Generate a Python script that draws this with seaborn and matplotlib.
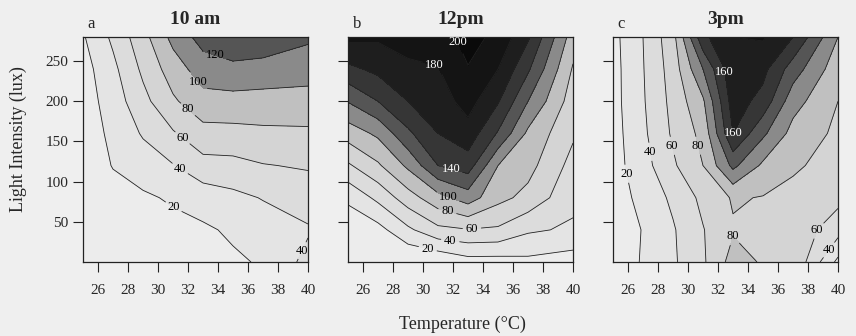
import matplotlib
matplotlib.use('Agg')
import matplotlib.pyplot as plt
import seaborn as sns

sns.set_theme(style="white")
plt.rcParams['font.family'] = ['Liberation Serif', 'DejaVu Serif']

# grid: temperature (C) x light (lux)
temp = [25, 27, 29, 31, 33, 35, 37, 40]
lux = [0, 40, 80, 120, 160, 200, 240, 280]

# rows = lux, cols = temp
z_10am = [
    [0, 3, 6, 9, 13, 17, 22, 46],
    [2, 6, 10, 14, 17, 23, 30, 38],
    [4, 12, 17, 22.5, 29, 35, 41, 49],
    [6, 21, 30, 39, 53, 54, 59, 62],
    [8, 25, 42, 58, 73, 74, 76, 77],
    [10, 29.5, 54, 77, 93, 93, 92, 91],
    [12, 35, 64, 90, 110, 115, 113, 110],
    [18, 44, 73, 106, 128, 135, 133, 123],
]
z_12pm = [
    [0, 0, 0, 2, 12, 12, 15, 10],
    [6, 13, 36, 55, 59, 57, 43, 37],
    [24, 45, 71, 93, 110, 86, 74, 45],
    [57, 77, 104, 140, 150, 100, 87, 53],
    [89, 104, 136, 160, 172, 138, 96, 63],
    [121, 140, 160, 170, 188, 162, 120, 70],
    [155, 165, 176, 179, 199, 180, 143, 78],
    [185, 183, 188, 190, 207, 195, 163, 90],
]
z_3pm = [
    [6, 22, 37, 57, 88, 78, 78, 15],
    [6, 21, 38, 59, 78, 74, 74, 48],
    [10, 26, 44, 65, 82, 79, 74, 66],
    [12, 32, 57, 80, 125, 96, 83, 72],
    [12, 36, 63, 86, 160, 124, 93, 76],
    [13, 38, 66, 97, 170, 153, 108, 80],
    [13, 39, 69, 120, 176, 166, 130, 88],
    [14, 40, 73, 155, 180, 182, 160, 100],
]

titles = ['10 am', '12pm', '3pm']
letters = ['a', 'b', 'c']
levels = list(range(0, 240, 20))

# contour label spots, level -> [(temp, lux)]
labels_10am = {20: [(31.1, 71)], 40: [(31.5, 117), (39.4, 16)], 60: [(31.7, 156)],
               80: [(32.0, 190)], 100: [(32.3, 219)], 120: [(33.7, 252)]}
labels_12pm = {20: [(30.3, 15)], 40: [(31.8, 24)], 60: [(33.3, 33)], 80: [(31.6, 61)],
               100: [(31.8, 88)], 140: [(32.0, 125)], 180: [(30.8, 246)], 200: [(32.0, 271)]}
labels_3pm = {20: [(25.7, 109)], 40: [(27.1, 136), (39.4, 15)], 60: [(28.8, 144), (38.6, 40)],
              80: [(30.5, 144), (33.1, 36)], 160: [(33.7, 240), (33.9, 124)]}

grays = ['#ececec', '#e4e4e4', '#dcdcdc', '#d4d4d4', '#c0c0c0', '#8a8a8a',
         '#555555', '#363636', '#1e1e1e', '#141414', '#0a0a0a']

fig = plt.figure(figsize=(8.56, 3.36), dpi=100, facecolor='#efefef')

lefts = [83 / 856, 348 / 856, 613 / 856]
panels = [(z_10am, labels_10am), (z_12pm, labels_12pm), (z_3pm, labels_3pm)]

for i, (z, lab) in enumerate(panels):
    ax = fig.add_axes([lefts[i], 74 / 336, 225 / 856, 225 / 336])
    ax.contourf(temp, lux, z, levels=levels, colors=grays)
    # one contour set per level so each label lands on its own line
    for lv in levels[1:-1]:
        if lv > max(max(r) for r in z):
            continue
        cs = ax.contour(temp, lux, z, levels=[lv], colors='#222222', linewidths=0.6)
        if lv in lab:
            col = 'white' if lv >= 140 else 'black'
            txts = ax.clabel(cs, manual=lab[lv], inline=True, fmt='%d',
                             fontsize=9, colors=col, inline_spacing=3)
            for t in txts:
                t.set_rotation(0)

    ax.set_xlim(25, 40)
    ax.set_ylim(0, 280)
    ax.set_xticks(range(26, 41, 2))
    ax.set_yticks([50, 100, 150, 200, 250])
    if i > 0:
        ax.set_yticklabels([])
    ax.tick_params(direction='out', length=7, width=0.8, color='#222222',
                   labelsize=11, bottom=True, left=True)
    ax.tick_params(axis='x', pad=9)
    for s in ax.spines.values():
        s.set_color('#222222')
        s.set_linewidth(0.9)
    ax.set_title(titles[i], fontweight='bold', fontsize=14, pad=9)
    ax.text(0.02, 1.02, letters[i], transform=ax.transAxes, fontsize=12, va='bottom')

fig.text(0.54, 0.035, 'Temperature (°C)', ha='center', va='center', fontsize=13)
fig.text(0.022, 0.585, 'Light Intensity (lux)', ha='center', va='center',
         rotation=90, fontsize=13)

plt.savefig('out.png', dpi=100, facecolor=fig.get_facecolor())
